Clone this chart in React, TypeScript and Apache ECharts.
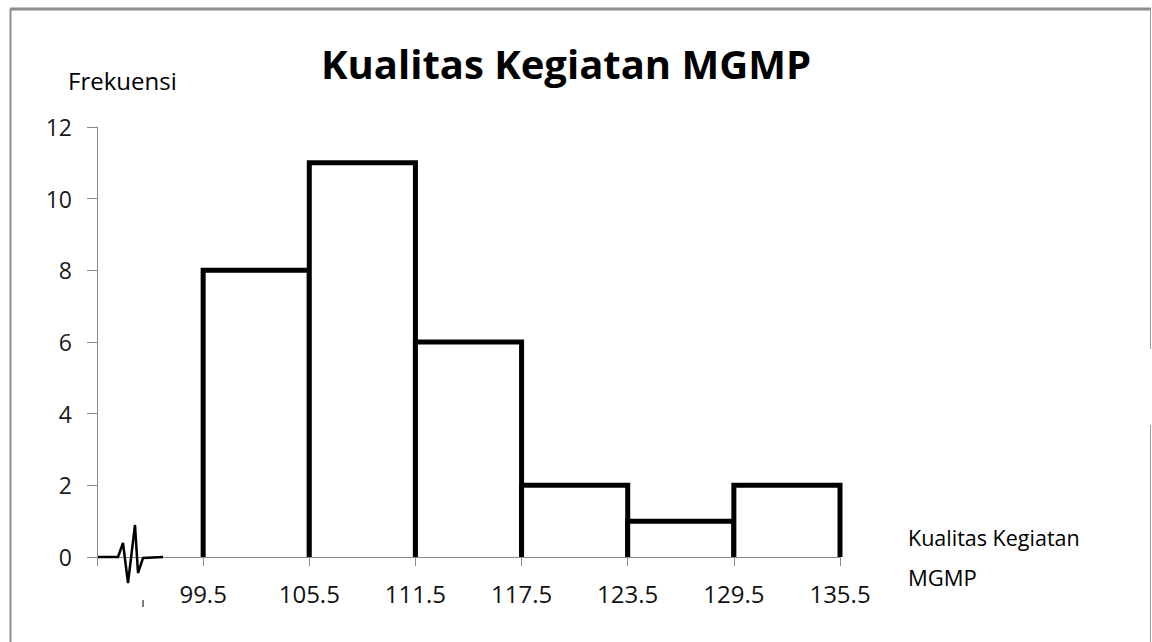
import React, { useEffect, useRef } from "react";
import * as echarts from "echarts";

const titleText = "Kualitas Kegiatan MGMP";
const yAxisName = "Frekuensi";
const xAxisNameLines = ["Kualitas Kegiatan", "MGMP"];
const tickLabels = ["99.5", "105.5", "111.5", "117.5", "123.5", "129.5", "135.5"];
const frequencies = [8, 11, 6, 2, 1, 2];

const FONT = "'Open Sans', 'Noto Sans', sans-serif";
const W = 1152;
const H = 642;

export default function App() {
  const ref = useRef<HTMLDivElement>(null);
  useEffect(() => {
    if (!ref.current) return;
    const chart = echarts.init(ref.current, null, { renderer: "svg", width: W, height: H });
    const data = frequencies.map((f, i) => [i + 1, i + 2, f]);
    const axisColor = "#8a8a8a";
    chart.setOption({
      animation: false,
      backgroundColor: "#ffffff",
      grid: { left: 97, right: 312, top: 127, bottom: 85, containLabel: false },
      xAxis: {
        type: "value",
        min: 0,
        max: tickLabels.length,
        interval: 1,
        splitLine: { show: false },
        axisLine: { show: true, lineStyle: { color: axisColor, width: 1 } },
        axisTick: { show: true, length: 9, inside: false, lineStyle: { color: axisColor } },
        axisLabel: {
          margin: 24,
          fontFamily: FONT,
          fontSize: 24,
          color: "#111",
          formatter: (v: number) => (v >= 1 ? tickLabels[Math.round(v) - 1] ?? "" : ""),
        },
      },
      yAxis: {
        type: "value",
        min: 0,
        max: 12,
        interval: 2,
        splitLine: { show: false },
        axisLine: { show: true, lineStyle: { color: axisColor, width: 1 } },
        axisTick: { show: true, length: 10, inside: false, lineStyle: { color: axisColor } },
        axisLabel: { margin: 25, fontFamily: FONT, fontSize: 23, color: "#1a1a1a" },
      },
      series: [
        {
          type: "custom",
          data,
          encode: { x: [0, 1], y: 2 },
          renderItem: (params: any, api: any) => {
            const x0 = api.value(0);
            const x1 = api.value(1);
            const f = api.value(2);
            const bl = api.coord([x0, 0]);
            const tl = api.coord([x0, f]);
            const tr = api.coord([x1, f]);
            const br = api.coord([x1, 0]);
            return {
              type: "group",
              children: [
                {
                  type: "polygon",
                  shape: { points: [bl, tl, tr, br] },
                  style: { fill: "#ffffff", stroke: "none" },
                },
                {
                  type: "polyline",
                  shape: { points: [bl, tl, tr, br] },
                  style: { stroke: "#000000", lineWidth: 5, fill: "none", lineJoin: "miter", lineCap: "butt" },
                },
              ],
            };
          },
        },
      ],
    });

    const o = chart.convertToPixel({ gridIndex: 0 }, [0, 0]) as number[];
    const ox = o[0];
    const oy = o[1];
    const squiggle = [
      [1, 0], [21, 0], [26, -14], [31, 26], [38, -32], [41, 16], [46, 1], [66, 0],
    ].map(([dx, dy]) => [ox + dx, oy + dy]);

    chart.setOption({
      graphic: [
        { type: "line", shape: { x1: 10, y1: 9, x2: 1151, y2: 9 }, style: { stroke: "#8c8c8c", lineWidth: 3 } },
        { type: "line", shape: { x1: 10.5, y1: 9, x2: 10.5, y2: H }, style: { stroke: "#8c8c8c", lineWidth: 2 } },
        { type: "line", shape: { x1: 1150.5, y1: 9, x2: 1150.5, y2: 349 }, style: { stroke: "#9a9a9a", lineWidth: 1 } },
        { type: "line", shape: { x1: 1150.5, y1: 425, x2: 1150.5, y2: H }, style: { stroke: "#9a9a9a", lineWidth: 1 } },
        {
          type: "text",
          x: 566,
          y: 63,
          style: {
            text: titleText,
            fontFamily: FONT,
            fontWeight: "bold",
            fontSize: 40,
            fill: "#000",
            align: "center",
            verticalAlign: "middle",
          },
        },
        {
          type: "text",
          x: 68,
          y: 80,
          style: { text: yAxisName, fontFamily: FONT, fontSize: 24, fill: "#000", align: "left", verticalAlign: "middle" },
        },
        {
          type: "text",
          x: 908,
          y: 537,
          style: { text: xAxisNameLines[0], fontFamily: FONT, fontSize: 21.5, fill: "#000", align: "left", verticalAlign: "middle" },
        },
        {
          type: "text",
          x: 908,
          y: 577,
          style: { text: xAxisNameLines[1], fontFamily: FONT, fontSize: 22, fill: "#000", align: "left", verticalAlign: "middle" },
        },
        {
          type: "polyline",
          shape: { points: squiggle },
          style: { stroke: "#000", lineWidth: 2.5, fill: "none", lineJoin: "miter" },
          z: 10,
        },
        {
          type: "line",
          shape: { x1: ox + 46, y1: oy + 43, x2: ox + 46, y2: oy + 50 },
          style: { stroke: "#555", lineWidth: 1.5 },
          z: 10,
        },
      ],
    });

    return () => chart.dispose();
  }, []);
  return (
    <div
      ref={ref}
      style={{ position: "fixed", left: 0, top: 0, width: W, height: H, background: "#fff" }}
    />
  );
}
